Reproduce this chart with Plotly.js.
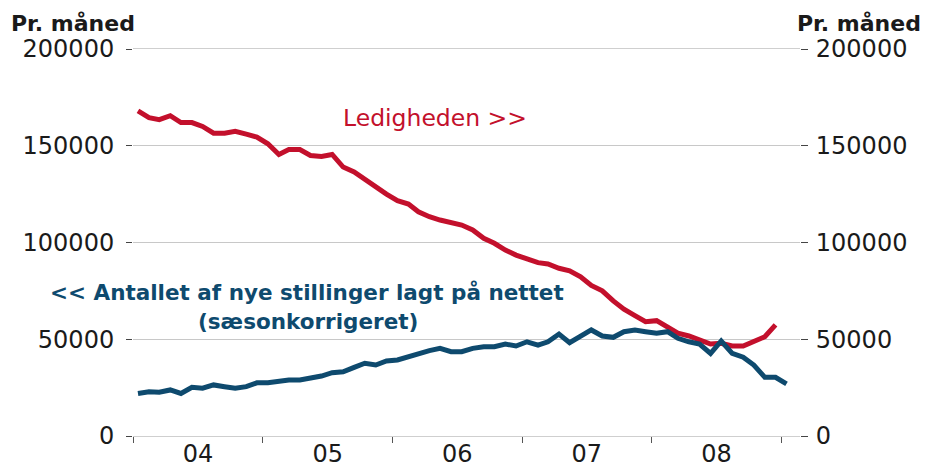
<!DOCTYPE html>
<html>
<head>
<meta charset="utf-8">
<script src="https://cdn.plot.ly/plotly-3.0.1.min.js"></script>
<style>
html,body{margin:0;padding:0;background:#fff;}
#chart{width:927px;height:468px;}
</style>
</head>
<body>
<div id="chart"></div>
<script>
// Months (plotted mid-month)
const months = [
 '2004-01-15','2004-02-15','2004-03-15','2004-04-15','2004-05-15','2004-06-15','2004-07-15','2004-08-15','2004-09-15','2004-10-15','2004-11-15','2004-12-15',
 '2005-01-15','2005-02-15','2005-03-15','2005-04-15','2005-05-15','2005-06-15','2005-07-15','2005-08-15','2005-09-15','2005-10-15','2005-11-15','2005-12-15',
 '2006-01-15','2006-02-15','2006-03-15','2006-04-15','2006-05-15','2006-06-15','2006-07-15','2006-08-15','2006-09-15','2006-10-15','2006-11-15','2006-12-15',
 '2007-01-15','2007-02-15','2007-03-15','2007-04-15','2007-05-15','2007-06-15','2007-07-15','2007-08-15','2007-09-15','2007-10-15','2007-11-15','2007-12-15',
 '2008-01-15','2008-02-15','2008-03-15','2008-04-15','2008-05-15','2008-06-15','2008-07-15','2008-08-15','2008-09-15','2008-10-15','2008-11-15','2008-12-15',
 '2009-01-15'
];

// Ledigheden (unemployment), Jan 2004 - Dec 2008
const ledigheden = [
 168000,164500,163500,165500,162000,162000,160000,156500,156500,157500,156000,154500,
 151000,145500,148000,148000,145000,144500,145500,139000,136500,132500,128500,125000,
 121600,119900,115900,113300,111600,110200,109000,106500,102200,99600,96100,93500,
 91300,89600,88900,86700,85400,82300,77800,75000,69800,65500,62200,59100,
 59600,56200,53100,51700,49600,47500,47900,46500,46500,48700,51300,57400
];

// Antallet af nye stillinger lagt på nettet (sæsonkorrigeret), Jan 2004 - Jan 2009
const stillinger = [
 22000,22900,22600,23800,22000,25200,24700,26400,25500,24700,25500,27500,
 27500,28400,28900,28900,29800,31000,32700,33200,35500,37600,36700,38800,
 39300,41000,42700,44100,45300,43600,43600,45300,46100,46100,47500,46500,
 48700,47000,48700,52700,48200,51500,54800,51700,51000,53900,54800,53900,
 53100,53900,50500,48700,47500,42700,49100,42700,40700,36700,30300,30300,
 26900
];

const yTicks = [0, 50000, 100000, 150000, 200000];
const yTickText = ['0','50000','100000','150000','200000'];
const unitLabel = 'Pr. måned';
const redLabel = 'Ledigheden >>';
const blueLabel1 = '<< Antallet af nye stillinger lagt på nettet';
const blueLabel2 = '(sæsonkorrigeret)';

const RED = '#C3102C';
const BLUE = '#0E4A6E';
const TXT = '#1a1a1a';
const tickFont = {family: 'DejaVu Sans, sans-serif', size: 24, color: TXT};

const traces = [
 {x: months.slice(0, ledigheden.length), y: ledigheden, type: 'scatter', mode: 'lines',
  line: {color: RED, width: 5}, yaxis: 'y', hoverinfo: 'skip'},
 {x: months.slice(0, stillinger.length), y: stillinger, type: 'scatter', mode: 'lines',
  line: {color: BLUE, width: 5}, yaxis: 'y2', hoverinfo: 'skip'}
];

const layout = {
 width: 927, height: 468,
 margin: {l: 133, r: 127, t: 49, b: 32, pad: 0},
 paper_bgcolor: '#fff', plot_bgcolor: '#fff',
 showlegend: false,
 xaxis: {
  type: 'date', range: ['2004-01-01', '2009-02-22'],
  tick0: '2004-01-01', dtick: 'M12', tickformat: '%y', ticklabelmode: 'period',
  ticks: 'outside', ticklen: 6, tickwidth: 1, tickcolor: '#555',
  showgrid: false, zeroline: false,
  showline: true, mirror: true, linecolor: '#cfcfcf', linewidth: 1,
  ticklabelstandoff: -10,
  tickfont: tickFont
 },
 yaxis: {
  range: [0, 200000], tickvals: yTicks, ticktext: yTickText,
  ticks: 'outside', ticklen: 6, tickwidth: 1, tickcolor: '#444',
  showgrid: true, gridcolor: '#c8c8c8', gridwidth: 1,
  zeroline: false, showline: false, ticklabelstandoff: 7,
  tickfont: tickFont
 },
 yaxis2: {
  overlaying: 'y', side: 'right',
  range: [0, 200000], tickvals: yTicks, ticktext: yTickText,
  ticks: 'outside', ticklen: 7, tickwidth: 1, tickcolor: '#444',
  showgrid: false, zeroline: false, showline: false, ticklabelstandoff: 3,
  tickfont: tickFont
 },
 annotations: [
  {xref: 'paper', yref: 'paper', x: -0.1859, y: 1.065, xanchor: 'left', yanchor: 'middle',
   text: '<b>' + unitLabel + '</b>', showarrow: false,
   font: {family: 'DejaVu Sans, sans-serif', size: 22, color: TXT}},
  {xref: 'paper', yref: 'paper', x: 1.185, y: 1.065, xanchor: 'right', yanchor: 'middle',
   text: '<b>' + unitLabel + '</b>', showarrow: false,
   font: {family: 'DejaVu Sans, sans-serif', size: 22, color: TXT}},
  {xref: 'paper', yref: 'paper', x: 0.4528, y: 0.8217, xanchor: 'center', yanchor: 'middle',
   text: redLabel.replace(/>/g, '&gt;'), showarrow: false,
   font: {family: 'DejaVu Sans, sans-serif', size: 23.5, color: RED}},
  {xref: 'paper', yref: 'paper', x: 0.2602, y: 0.372, xanchor: 'center', yanchor: 'middle',
   text: '<b>' + blueLabel1.replace(/</g, '&lt;') + '</b>', showarrow: false,
   font: {family: 'DejaVu Sans, sans-serif', size: 21.5, color: BLUE}},
  {xref: 'paper', yref: 'paper', x: 0.2617, y: 0.2946, xanchor: 'center', yanchor: 'middle',
   text: '<b>' + blueLabel2 + '</b>', showarrow: false,
   font: {family: 'DejaVu Sans, sans-serif', size: 21.5, color: BLUE}}
 ]
};

Plotly.newPlot('chart', traces, layout, {staticPlot: true, displayModeBar: false});
</script>
</body>
</html>
